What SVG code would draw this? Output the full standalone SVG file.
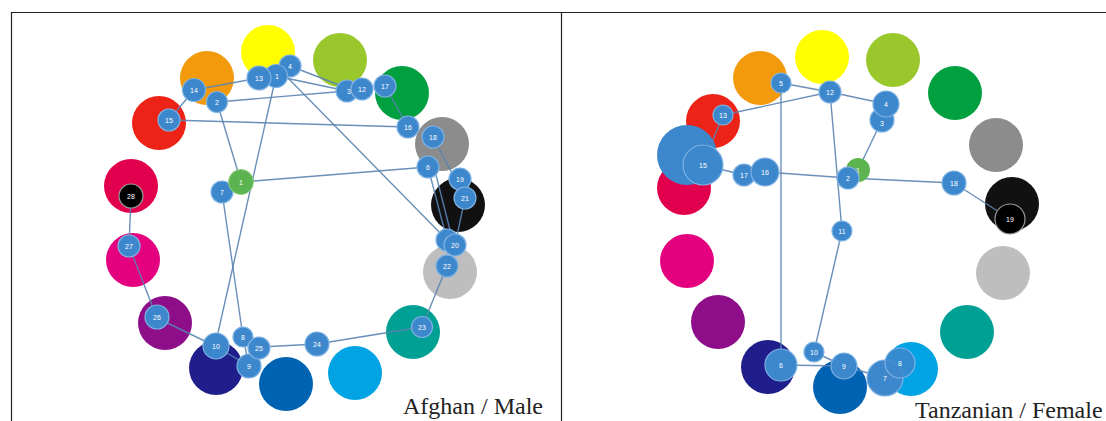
<svg xmlns="http://www.w3.org/2000/svg" width="1106" height="421" viewBox="0 0 1106 421">
<style>
.big{stroke:none}
.n{fill:#3d87cc;stroke:#7fb2e3;stroke-width:1.2}
.nt{fill:#fff;font-family:"Liberation Sans",Arial,sans-serif;font-size:7px;text-anchor:middle;dominant-baseline:central}
.e{stroke:#5a83b0;stroke-width:1.4;fill:none;opacity:0.9}
.cap{font-family:"Liberation Serif","Times New Roman",serif;font-size:24px;fill:#222}
</style>
<rect x="0" y="0" width="1106" height="421" fill="#fff"/>
<path d="M11.5,421 V12.5 H1106 M561.5,12.5 V421" stroke="#222" stroke-width="1.2" fill="none"/>

<g id="left-colours">
<circle class="big" cx="268" cy="52" r="27" fill="#ffff00"/>
<circle class="big" cx="207" cy="78" r="27" fill="#f39a0c"/>
<circle class="big" cx="340" cy="60" r="27" fill="#9ac82c"/>
<circle class="big" cx="402" cy="93" r="27" fill="#00a040"/>
<circle class="big" cx="159" cy="123" r="27" fill="#ee2318"/>
<circle class="big" cx="442" cy="144" r="27" fill="#8c8c8c"/>
<circle class="big" cx="131" cy="186" r="27" fill="#e2004e"/>
<circle class="big" cx="458" cy="205" r="27" fill="#111111"/>
<circle class="big" cx="133" cy="260" r="27" fill="#e4007f"/>
<circle class="big" cx="450" cy="272" r="27" fill="#bebebe"/>
<circle class="big" cx="165" cy="323" r="27" fill="#8e0e8a"/>
<circle class="big" cx="413" cy="332" r="27" fill="#00a095"/>
<circle class="big" cx="216" cy="368" r="27" fill="#1f1e8a"/>
<circle class="big" cx="286" cy="384" r="27" fill="#0062b2"/>
<circle class="big" cx="355" cy="373" r="27" fill="#00a3e4"/>
</g>

<g id="right-colours">
<circle class="big" cx="760" cy="78" r="27" fill="#f39a0c"/>
<circle class="big" cx="822" cy="57" r="27" fill="#ffff00"/>
<circle class="big" cx="893" cy="60" r="27" fill="#9ac82c"/>
<circle class="big" cx="955" cy="93" r="27" fill="#00a040"/>
<circle class="big" cx="713" cy="121" r="27" fill="#ee2318"/>
<circle class="big" cx="996" cy="145" r="27" fill="#8c8c8c"/>
<circle class="big" cx="684" cy="188" r="27" fill="#e2004e"/>
<circle class="big" cx="1012" cy="204" r="27" fill="#111111"/>
<circle class="big" cx="687" cy="261" r="27" fill="#e4007f"/>
<circle class="big" cx="1003" cy="273" r="27" fill="#bebebe"/>
<circle class="big" cx="718" cy="322" r="27" fill="#8e0e8a"/>
<circle class="big" cx="967" cy="332" r="27" fill="#00a095"/>
<circle class="big" cx="768" cy="367" r="27" fill="#1f1e8a"/>
<circle class="big" cx="840" cy="387" r="27" fill="#0062b2"/>
<circle class="big" cx="911" cy="369" r="27" fill="#00a3e4"/>
</g>

<g id="connectors">
<!-- left -->
<line class="e" x1="194" y1="90" x2="169" y2="120"/>
<line class="e" x1="194" y1="90" x2="259" y2="78"/>
<line class="e" x1="217" y1="102" x2="347" y2="91"/>
<line class="e" x1="169" y1="120" x2="408" y2="127"/>
<line class="e" x1="217" y1="102" x2="241" y2="182"/>
<line class="e" x1="276" y1="76" x2="215" y2="346"/>
<line class="e" x1="222" y1="192" x2="243" y2="337"/>
<line class="e" x1="276" y1="76" x2="347" y2="91"/>
<line class="e" x1="290" y1="66" x2="347" y2="88"/>
<line class="e" x1="284" y1="74" x2="447" y2="240"/>
<line class="e" x1="241" y1="182" x2="428" y2="167"/>
<line class="e" x1="385" y1="86" x2="408" y2="127"/>
<line class="e" x1="428" y1="167" x2="447" y2="240"/>
<line class="e" x1="434" y1="167" x2="452" y2="238"/>
<line class="e" x1="433" y1="137" x2="465" y2="198"/>
<line class="e" x1="465" y1="198" x2="455" y2="245"/>
<line class="e" x1="447" y1="266" x2="422" y2="327"/>
<line class="e" x1="422" y1="327" x2="317" y2="344"/>
<line class="e" x1="317" y1="344" x2="261" y2="347"/>
<line class="e" x1="243" y1="337" x2="249" y2="366"/>
<line class="e" x1="215" y1="346" x2="249" y2="366"/>
<line class="e" x1="157" y1="318" x2="215" y2="346"/>
<line class="e" x1="129" y1="246" x2="157" y2="318"/>
<line class="e" x1="131" y1="196" x2="129" y2="246"/>
<!-- right -->
<line class="e" x1="781" y1="83" x2="830" y2="92"/>
<line class="e" x1="723" y1="115" x2="830" y2="92"/>
<line class="e" x1="830" y1="92" x2="886" y2="104"/>
<line class="e" x1="830" y1="92" x2="842" y2="231"/>
<line class="e" x1="842" y1="231" x2="814" y2="352"/>
<line class="e" x1="781" y1="83" x2="781" y2="365"/>
<line class="e" x1="882" y1="120" x2="858" y2="170"/>
<line class="e" x1="723" y1="115" x2="703" y2="165"/>
<line class="e" x1="703" y1="165" x2="744" y2="175"/>
<line class="e" x1="765" y1="172" x2="848" y2="178"/>
<line class="e" x1="848" y1="178" x2="954" y2="183"/>
<line class="e" x1="954" y1="183" x2="1010" y2="219"/>
<line class="e" x1="781" y1="365" x2="844" y2="366"/>
<line class="e" x1="814" y1="352" x2="844" y2="366"/>
<line class="e" x1="844" y1="366" x2="885" y2="378"/>
</g>

<g id="left-nodes">
<g id="L15"><circle class="n" cx="169" cy="120" r="11"/><text class="nt" x="169" y="120">15</text></g>
<g id="L14"><circle class="n" cx="194" cy="90" r="11.5"/><text class="nt" x="194" y="90">14</text></g>
<g id="L2"><circle class="n" cx="217" cy="102" r="10.5"/><text class="nt" x="217" y="102">2</text></g>
<g id="L4"><circle class="n" cx="290" cy="66" r="11"/><text class="nt" x="290" y="66">4</text></g>
<g id="L1t"><circle class="n" cx="276" cy="76" r="11.5"/><text class="nt" x="277" y="76">1</text></g>
<g id="L13"><circle class="n" cx="259" cy="78" r="12"/><text class="nt" x="259" y="78">13</text></g>
<g id="L3"><circle class="n" cx="347" cy="91" r="11"/><text class="nt" x="349" y="91">3</text></g>
<g id="L12"><circle class="n" cx="362" cy="89" r="11"/><text class="nt" x="362" y="89">12</text></g>
<g id="L17"><circle class="n" cx="385" cy="86" r="11"/><text class="nt" x="385" y="86">17</text></g>
<g id="L16"><circle class="n" cx="408" cy="127" r="11"/><text class="nt" x="408" y="127">16</text></g>
<g id="L18"><circle class="n" cx="433" cy="137" r="11"/><text class="nt" x="433" y="137">18</text></g>
<g id="L6"><circle class="n" cx="428" cy="167" r="11"/><text class="nt" x="428" y="167">6</text></g>
<g id="L19"><circle class="n" cx="460" cy="179" r="11"/><text class="nt" x="460" y="179">19</text></g>
<g id="L21"><circle class="n" cx="465" cy="198" r="11"/><text class="nt" x="465" y="198">21</text></g>
<g id="L5"><circle class="n" cx="447" cy="240" r="11"/></g>
<g id="L20"><circle class="n" cx="455" cy="245" r="11"/><text class="nt" x="455" y="245">20</text></g>
<g id="L22"><circle class="n" cx="447" cy="266" r="11"/><text class="nt" x="447" y="266">22</text></g>
<g id="L23"><circle class="n" cx="422" cy="327" r="10.5"/><text class="nt" x="422" y="327">23</text></g>
<g id="L24"><circle class="n" cx="317" cy="344" r="12"/><text class="nt" x="317" y="344">24</text></g>
<g id="L8"><circle class="n" cx="243" cy="337" r="10"/><text class="nt" x="243" y="337">8</text></g>
<g id="L10"><circle class="n" cx="216" cy="346" r="13"/><text class="nt" x="216" y="346">10</text></g>
<g id="L9"><circle class="n" cx="249" cy="366" r="12"/><text class="nt" x="249" y="366">9</text></g>
<g id="L25"><circle class="n" cx="259" cy="348" r="11"/><text class="nt" x="259" y="348">25</text></g>
<g id="L26"><circle class="n" cx="157" cy="317" r="12"/><text class="nt" x="157" y="317">26</text></g>
<g id="L27"><circle class="n" cx="129" cy="246" r="11"/><text class="nt" x="129" y="246">27</text></g>
<g id="L28"><circle cx="131" cy="196" r="12" fill="#000" stroke="#999" stroke-width="1.2"/><text class="nt" x="131" y="196">28</text></g>
<g id="L7"><circle class="n" cx="222" cy="192" r="11"/><text class="nt" x="222" y="192">7</text></g>
<g id="L1"><circle cx="241" cy="182" r="12.5" fill="#5cb450" stroke="#8fd085" stroke-width="1"/><text class="nt" x="241" y="182">1</text></g>
</g>

<g id="right-nodes">
<g id="R15big"><circle cx="687" cy="155" r="30" fill="#3d87cc"/></g>
<g id="R15"><circle class="n" cx="703" cy="165" r="20"/><text class="nt" x="703" y="165">15</text></g>
<g id="R13"><circle class="n" cx="723" cy="115" r="10" stroke="#bbb"/><text class="nt" x="723" y="115">13</text></g>
<g id="R17"><circle class="n" cx="744" cy="175" r="11"/><text class="nt" x="744" y="175">17</text></g>
<g id="R16"><circle class="n" cx="765" cy="172" r="14"/><text class="nt" x="765" y="172">16</text></g>
<g id="R5"><circle class="n" cx="781" cy="83" r="10"/><text class="nt" x="781" y="83">5</text></g>
<g id="R12"><circle class="n" cx="830" cy="92" r="11"/><text class="nt" x="830" y="92">12</text></g>
<g id="R3"><circle class="n" cx="882" cy="120" r="12"/><text class="nt" x="882" y="123">3</text></g>
<g id="R4"><circle class="n" cx="886" cy="104" r="13"/><text class="nt" x="886" y="104">4</text></g>
<g id="R1"><circle cx="858" cy="170" r="12" fill="#5cb450"/><text class="nt" x="858" y="170">1</text></g>
<g id="R2"><circle class="n" cx="848" cy="178" r="11"/><text class="nt" x="848" y="178">2</text></g>
<g id="R18"><circle class="n" cx="954" cy="183" r="12"/><text class="nt" x="954" y="183">18</text></g>
<g id="R19"><circle cx="1010" cy="219" r="15" fill="#000" stroke="#999" stroke-width="1.2"/><text class="nt" x="1010" y="219">19</text></g>
<g id="R11"><circle class="n" cx="842" cy="231" r="10"/><text class="nt" x="842" y="231">11</text></g>
<g id="R10"><circle class="n" cx="814" cy="352" r="10"/><text class="nt" x="814" y="352">10</text></g>
<g id="R6"><circle class="n" cx="781" cy="365" r="16"/><text class="nt" x="781" y="365">6</text></g>
<g id="R9"><circle class="n" cx="844" cy="366" r="13"/><text class="nt" x="844" y="366">9</text></g>
<g id="R7"><circle class="n" cx="885" cy="378" r="18"/><text class="nt" x="885" y="378">7</text></g>
<g id="R8"><circle class="n" cx="900" cy="363" r="15" fill-opacity="0.85"/><text class="nt" x="900" y="363">8</text></g>
</g>

<text class="cap" x="403" y="414">Afghan / Male</text>
<text class="cap" x="915" y="418">Tanzanian / Female</text>
</svg>
